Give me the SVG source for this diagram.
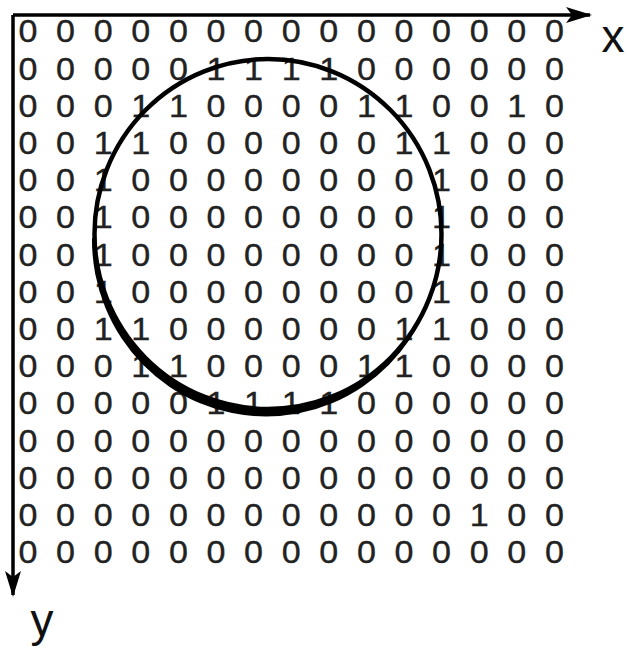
<svg xmlns="http://www.w3.org/2000/svg" width="627" height="650" viewBox="0 0 627 650">
<style>
.d{font-family:"Liberation Sans",Arial,sans-serif;font-size:31px;fill:#222;stroke:#222;stroke-width:0.35;text-anchor:middle}
.lbl{font-family:"Liberation Sans",Arial,sans-serif;font-size:46px;fill:#111;text-anchor:middle}
.ax{stroke:#000;stroke-width:3.5;fill:none}
</style>
<defs>
<marker id="ah" viewBox="-26 -9 28 18" refX="0" refY="0" markerWidth="28" markerHeight="18" markerUnits="userSpaceOnUse" orient="auto">
<path d="M2,0 L-24,-8 L-18,0 L-24,8 Z" fill="#000"/>
</marker>
<clipPath id="lower"><rect x="60" y="238" width="420" height="200"/></clipPath>
</defs>
<g id="grid" transform="scale(1.1,1)">
<text class="d" y="42.5" x="25.455 59.636 93.818 128 162.182 196.364 230.545 264.727 298.909 333.091 367.273 401.455 435.636 469.818 504">000000000000000</text>
<text class="d" y="79.7" x="25.455 59.636 93.818 128 162.182 196.364 230.545 264.727 298.909 333.091 367.273 401.455 435.636 469.818 504">000001111000000</text>
<text class="d" y="116.9" x="25.455 59.636 93.818 128 162.182 196.364 230.545 264.727 298.909 333.091 367.273 401.455 435.636 469.818 504">000110000110010</text>
<text class="d" y="154.1" x="25.455 59.636 93.818 128 162.182 196.364 230.545 264.727 298.909 333.091 367.273 401.455 435.636 469.818 504">001100000011000</text>
<text class="d" y="191.3" x="25.455 59.636 93.818 128 162.182 196.364 230.545 264.727 298.909 333.091 367.273 401.455 435.636 469.818 504">001000000001000</text>
<text class="d" y="228.5" x="25.455 59.636 93.818 128 162.182 196.364 230.545 264.727 298.909 333.091 367.273 401.455 435.636 469.818 504">001000000001000</text>
<text class="d" y="265.7" x="25.455 59.636 93.818 128 162.182 196.364 230.545 264.727 298.909 333.091 367.273 401.455 435.636 469.818 504">001000000001000</text>
<text class="d" y="302.9" x="25.455 59.636 93.818 128 162.182 196.364 230.545 264.727 298.909 333.091 367.273 401.455 435.636 469.818 504">001000000001000</text>
<text class="d" y="340.1" x="25.455 59.636 93.818 128 162.182 196.364 230.545 264.727 298.909 333.091 367.273 401.455 435.636 469.818 504">001100000011000</text>
<text class="d" y="377.3" x="25.455 59.636 93.818 128 162.182 196.364 230.545 264.727 298.909 333.091 367.273 401.455 435.636 469.818 504">000110000110000</text>
<text class="d" y="414.5" x="25.455 59.636 93.818 128 162.182 196.364 230.545 264.727 298.909 333.091 367.273 401.455 435.636 469.818 504">000001111000000</text>
<text class="d" y="451.7" x="25.455 59.636 93.818 128 162.182 196.364 230.545 264.727 298.909 333.091 367.273 401.455 435.636 469.818 504">000000000000000</text>
<text class="d" y="488.9" x="25.455 59.636 93.818 128 162.182 196.364 230.545 264.727 298.909 333.091 367.273 401.455 435.636 469.818 504">000000000000000</text>
<text class="d" y="526.1" x="25.455 59.636 93.818 128 162.182 196.364 230.545 264.727 298.909 333.091 367.273 401.455 435.636 469.818 504">000000000000100</text>
<text class="d" y="563.3" x="25.455 59.636 93.818 128 162.182 196.364 230.545 264.727 298.909 333.091 367.273 401.455 435.636 469.818 504">000000000000000</text>
</g>
<g id="circle">
<ellipse cx="268" cy="234" rx="173.5" ry="175" fill="none" stroke="#000" stroke-width="4.5"/>
<path fill="#000" fill-rule="evenodd" clip-path="url(#lower)" d="M92,240 A174,176.5 0 1,0 440,240 A174,176.5 0 1,0 92,240 Z M94.5,234 A173.5,175 0 1,0 441.5,234 A173.5,175 0 1,0 94.5,234 Z"/>
</g>
<g id="connectors">
<path class="ax" d="M13,15 H590" marker-end="url(#ah)"/>
<path class="ax" d="M13,15 V595" marker-end="url(#ah)"/>
</g>
<g id="labels">
<text class="lbl" x="613" y="52">x</text>
<text class="lbl" x="42" y="636">y</text>
</g>
</svg>
